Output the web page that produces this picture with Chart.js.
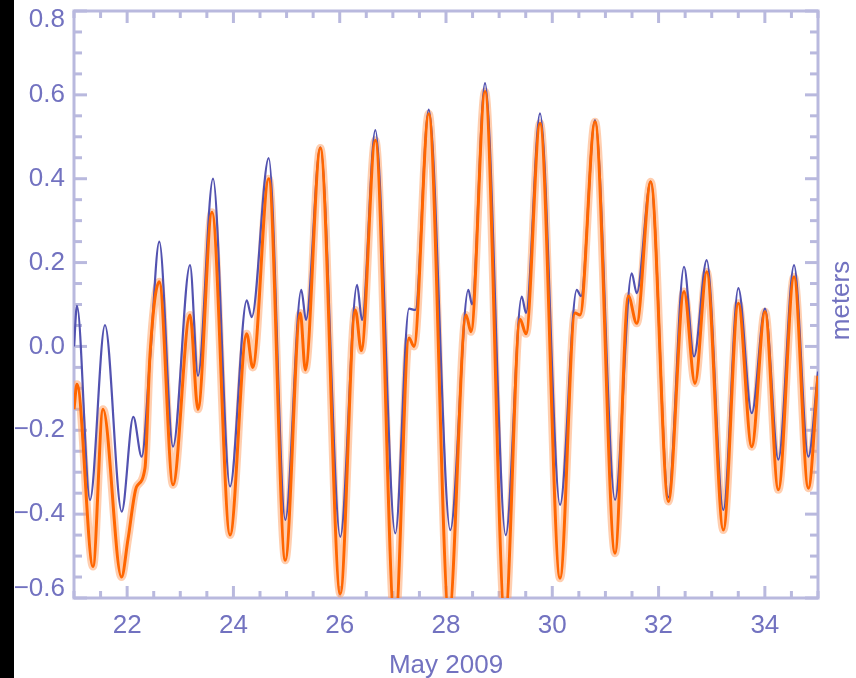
<!DOCTYPE html>
<html><head><meta charset="utf-8">
<script src="https://cdn.jsdelivr.net/npm/chart.js@4/dist/chart.umd.min.js"></script>
<style>
html,body{margin:0;padding:0;background:#fff;}
#wrap{position:relative;width:856px;height:678px;overflow:hidden;background:#fff;}
#strip{position:absolute;left:0;top:0;width:14px;height:678px;background:#000;}
canvas{position:absolute;left:0;top:0;}
</style></head><body>
<div id="wrap"><canvas id="c" width="856" height="678"></canvas><div id="strip"></div></div>
<script>
// ---- data (day of May 2009, metres) ----
const blueDays = [21.000, 21.056, 21.301, 21.583, 21.898, 22.116, 22.274, 22.430, 22.605, 22.863,
  23.183, 23.333, 23.616, 23.936, 24.250, 24.344, 24.664, 24.976, 25.277, 25.366,
  25.635, 26.011, 26.326, 26.420, 26.670, 27.046, 27.304, 27.423, 27.675, 28.081,
  28.420, 28.490, 28.734, 29.124, 29.425, 29.506, 29.769, 30.146, 30.460, 30.541,
  30.804, 31.181, 31.495, 31.589, 31.853, 32.184, 32.479, 32.667, 32.906, 33.219,
  33.501, 33.753, 34.003, 34.254, 34.549, 34.818, 35.000];
const blueValues = [0.0, 0.097, -0.366, 0.051, -0.394, -0.168, -0.263, -0.03, 0.25, -0.239,
  0.194, -0.07, 0.40, -0.334, 0.11, 0.07, 0.449, -0.414, 0.135, 0.063,
  0.475, -0.454, 0.147, 0.063, 0.516, -0.446, 0.09, 0.087, 0.565, -0.438,
  0.135, 0.10, 0.628, -0.45, 0.119, 0.08, 0.556, -0.378, 0.135, 0.12,
  0.54, -0.366, 0.174, 0.127, 0.393, -0.36, 0.19, -0.024, 0.206, -0.39,
  0.139, -0.159, 0.09, -0.27, 0.194, -0.263, -0.06];
const orangeDays = [21.000, 21.056, 21.358, 21.546, 21.894, 22.016, 22.176, 22.336, 22.430, 22.605,
  22.863, 23.183, 23.333, 23.597, 23.936, 24.250, 24.363, 24.664, 24.976, 25.259,
  25.353, 25.635, 26.011, 26.294, 26.407, 26.670, 27.041, 27.304, 27.398, 27.675,
  28.057, 28.377, 28.471, 28.734, 29.111, 29.393, 29.506, 29.769, 30.146, 30.428,
  30.522, 30.804, 31.181, 31.431, 31.589, 31.853, 32.184, 32.479, 32.686, 32.906,
  33.219, 33.501, 33.753, 34.003, 34.254, 34.549, 34.818, 35.000];
const orangeValues = [-0.15, -0.09, -0.525, -0.15, -0.55, -0.46, -0.335, -0.29, -0.02, 0.154,
  -0.33, 0.075, -0.15, 0.32, -0.45, 0.03, -0.05, 0.40, -0.51, 0.08,
  -0.056, 0.473, -0.59, 0.087, -0.01, 0.492, -0.67, 0.02, 0.0, 0.555,
  -0.64, 0.075, 0.035, 0.608, -0.65, 0.065, 0.03, 0.532, -0.553, 0.08,
  0.075, 0.536, -0.493, 0.12, 0.055, 0.393, -0.37, 0.131, -0.088, 0.178,
  -0.438, 0.103, -0.239, 0.083, -0.342, 0.166, -0.338, -0.07];
const xTickValues = [22, 24, 26, 28, 30, 32, 34];
const xTickLabels = ['22', '24', '26', '28', '30', '32', '34'];
const yTickValues = [-0.6, -0.4, -0.2, 0.0, 0.2, 0.4, 0.6, 0.8];
const yTickLabels = ['\u22120.6', '\u22120.4', '\u22120.2', '0.0', '0.2', '0.4', '0.6', '0.8'];
const xAxisTitle = 'May 2009';
const yAxisTitle = 'meters';

// ---- styling ----
const FONT = "'Liberation Sans', Arial, sans-serif";
const textColor = '#7272c0';
const axisColor = '#b9b9de';

const toPoints = (xs, ys) => xs.map((d, i) => ({x: d, y: ys[i]}));

const frame = {
  id: 'frame',
  beforeDatasetsDraw(chart) {
    const {ctx, chartArea: a, scales: {x, y}} = chart;
    ctx.save();
    ctx.strokeStyle = axisColor;
    ctx.lineWidth = 3;
    ctx.lineCap = 'butt';
    ctx.strokeRect(a.left, a.top, a.right - a.left, a.bottom - a.top);
    const seg = (x1, y1, x2, y2) => { ctx.beginPath(); ctx.moveTo(x1, y1); ctx.lineTo(x2, y2); ctx.stroke(); };
    for (let v = x.min; v <= x.max + 1e-9; v += 0.5) {
      const major = xTickValues.some(t => Math.abs(t - v) < 1e-6);
      const len = major ? 12 : 7;
      const px = x.getPixelForValue(v);
      seg(px, a.bottom, px, a.bottom - len);
      seg(px, a.top, px, a.top + len);
    }
    for (let k = 0; k <= 28; k++) {
      const v = y.min + k * 0.05;
      const major = k % 4 === 0;
      const len = major ? 13 : 8;
      const py = y.getPixelForValue(v);
      seg(a.left, py, a.left + len, py);
      seg(a.right, py, a.right - len, py);
    }
    ctx.restore();
  },
  afterDraw(chart) {
    const {ctx, chartArea: a} = chart;
    ctx.save();
    ctx.fillStyle = textColor;
    ctx.font = "26px " + FONT;
    ctx.translate(849, (a.top + a.bottom) / 2 - 4);
    ctx.rotate(-Math.PI / 2);
    ctx.textAlign = 'center';
    ctx.textBaseline = 'alphabetic';
    ctx.fillText(yAxisTitle, 0, 0);
    ctx.restore();
  }
};

new Chart(document.getElementById('c'), {
  type: 'line',
  data: {
    datasets: [
      {label: 'model halo', data: toPoints(orangeDays, orangeValues), borderColor: 'rgba(255,165,110,0.55)', borderWidth: 8,
       pointRadius: 0, cubicInterpolationMode: 'monotone', clip: 0, order: 3},
      {label: 'observed', data: toPoints(blueDays, blueValues), borderColor: '#5252b0', borderWidth: 2.2,
       pointRadius: 0, cubicInterpolationMode: 'monotone', clip: 0, order: 2},
      {label: 'model', data: toPoints(orangeDays, orangeValues), borderColor: '#ff6600', borderWidth: 3,
       pointRadius: 0, cubicInterpolationMode: 'monotone', clip: 0, order: 1}
    ]
  },
  options: {
    responsive: false,
    animation: false,
    devicePixelRatio: 1,
    layout: {padding: {left: 0, right: 38, top: 11, bottom: 0}},
    plugins: {legend: {display: false}, tooltip: {enabled: false}, title: {display: false}},
    scales: {
      x: {
        type: 'linear', min: 21, max: 35,
        grid: {display: false, drawTicks: false}, border: {display: false},
        afterBuildTicks: s => { s.ticks = xTickValues.map(v => ({value: v})); },
        afterFit: s => { s.height = 80; s.paddingLeft = 0; s.paddingRight = 0; },
        ticks: {padding: 12, color: textColor, autoSkip: false, maxRotation: 0,
                font: {family: FONT, size: 26, lineHeight: 1.2},
                callback: (v, i) => xTickLabels[i]},
        title: {display: true, text: xAxisTitle, color: textColor,
                font: {family: FONT, size: 26, lineHeight: 1.2}, padding: {top: 0, bottom: -3}}
      },
      y: {
        type: 'linear', min: -0.6, max: 0.8,
        grid: {display: false, drawTicks: false}, border: {display: false},
        afterBuildTicks: s => { s.ticks = yTickValues.map(v => ({value: v})); },
        afterFit: s => { s.width = 74; s.paddingTop = 0; s.paddingBottom = 0; },
        ticks: {padding: 9, color: textColor, autoSkip: false,
                font: {family: FONT, size: 26, lineHeight: '18px'},
                callback: (v, i) => i === 0 ? [yTickLabels[0], ''] :
                  (i === yTickLabels.length - 1 ? ['', yTickLabels[i]] : yTickLabels[i])}
      }
    }
  },
  plugins: [frame]
});
</script>
</body></html>
